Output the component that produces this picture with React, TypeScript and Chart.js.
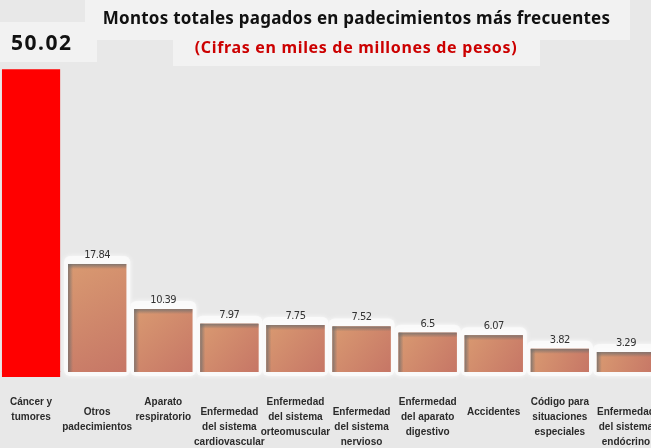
import React, { useEffect, useRef } from "react";
import { Chart, registerables } from "chart.js";

Chart.register(...registerables);

const categories: string[][] = [
  ["Cáncer y", "tumores"],
  ["Otros", "padecimientos"],
  ["Aparato", "respiratorio"],
  ["Enfermedad", "del sistema", "cardiovascular"],
  ["Enfermedad", "del sistema", "orteomuscular"],
  ["Enfermedad", "del sistema", "nervioso"],
  ["Enfermedad", "del aparato", "digestivo"],
  ["Accidentes"],
  ["Código para", "situaciones", "especiales"],
  ["Enfermedad", "del sistema", "endócrino"],
];
const values: number[] = [50.02, 17.84, 10.39, 7.97, 7.75, 7.52, 6.5, 6.07, 3.82, 3.29];
const titleText = "Montos totales pagados en padecimientos más frecuentes";
const subtitleText = "(Cifras en miles de millones de pesos)";

const SHIFT = 2; // canvas is placed 2px left of the page

function fitSpacing(ctx: CanvasRenderingContext2D, text: string, target: number) {
  (ctx as any).letterSpacing = "0px";
  const w = ctx.measureText(text).width;
  const n = Math.max(1, text.length - 1);
  let s = (target - w) / n;
  if (s > 1.5) s = 1.5;
  if (s < -1) s = -1;
  (ctx as any).letterSpacing = s.toFixed(2) + "px";
}

const decor = {
  id: "decor",
  beforeDraw(chart: any) {
    const ctx: CanvasRenderingContext2D = chart.ctx;
    ctx.save();
    ctx.fillStyle = "#e8e8e8";
    ctx.fillRect(0, 0, chart.width, chart.height);
    ctx.fillStyle = "#f2f2f2";
    ctx.fillRect(85 + SHIFT, 0, 545, 40);
    ctx.fillRect(173 + SHIFT, 40, 367, 26);
    ctx.fillRect(0, 22, 97 + SHIFT, 40);
    ctx.restore();
  },
  beforeDatasetsDraw(chart: any) {
    const ctx: CanvasRenderingContext2D = chart.ctx;
    const meta = chart.getDatasetMeta(0);
    ctx.save();
    meta.data.forEach((el: any, i: number) => {
      if (i === 0) return;
      const p = el.getProps(["x", "y", "base", "width"], true);
      const left = p.x - p.width / 2;
      const w = p.width;
      ctx.save();
      ctx.shadowColor = "rgba(255,255,255,0.95)";
      ctx.shadowBlur = 5;
      ctx.fillStyle = "rgba(250,250,250,0.85)";
      ctx.beginPath();
      (ctx as any).roundRect(left - 4, p.y - 8, w + 8, p.base - p.y + 12, 6);
      ctx.fill();
      ctx.restore();
    });
    ctx.restore();
  },
  afterDatasetsDraw(chart: any) {
    const ctx: CanvasRenderingContext2D = chart.ctx;
    const meta = chart.getDatasetMeta(0);
    ctx.save();
    meta.data.forEach((el: any, i: number) => {
      const p = el.getProps(["x", "y", "base", "width"], true);
      const left = p.x - p.width / 2;
      const right = p.x + p.width / 2;
      const w = p.width;
      const h = p.base - p.y;
      if (i === 0) {
        ctx.fillStyle = "#ff0000";
        ctx.fillRect(left, p.base - 1, w, 6);
        return;
      }
      const g = ctx.createLinearGradient(left, p.y, right, p.base);
      g.addColorStop(0, "#d99a71");
      g.addColorStop(1, "#c67666");
      ctx.fillStyle = g;
      ctx.fillRect(left, p.y, w, h);
      const gl = ctx.createLinearGradient(left, 0, left + 5, 0);
      gl.addColorStop(0, "rgba(110,110,110,0.8)");
      gl.addColorStop(1, "rgba(110,110,110,0)");
      ctx.fillStyle = gl;
      ctx.fillRect(left, p.y, 5, h);
      const gt = ctx.createLinearGradient(0, p.y, 0, p.y + 5);
      gt.addColorStop(0, "rgba(110,110,110,0.8)");
      gt.addColorStop(1, "rgba(110,110,110,0)");
      ctx.fillStyle = gt;
      ctx.fillRect(left, p.y, w, 5);
      // value label
      ctx.fillStyle = "#333333";
      ctx.font = "11px 'DejaVu Sans Condensed', 'DejaVu Sans', sans-serif";
      (ctx as any).fontStretch = "condensed";
      (ctx as any).letterSpacing = "-0.5px";
      ctx.textAlign = "center";
      ctx.textBaseline = "alphabetic";
      ctx.fillText(String(values[i]), p.x, p.y - 6);
      (ctx as any).letterSpacing = "0px";
      (ctx as any).fontStretch = "normal";
    });
    // category labels
    const xs = chart.scales.x;
    ctx.fillStyle = "#2b2b2b";
    ctx.font = "bold 10px 'Liberation Sans', Arial, sans-serif";
    ctx.textAlign = "center";
    ctx.textBaseline = "middle";
    categories.forEach((lines, i) => {
      const x = xs.getPixelForValue(i);
      const first = i % 2 === 0 ? 402 : 412.5;
      lines.forEach((ln, j) => ctx.fillText(ln, x, first + j * 15));
    });
    ctx.restore();
  },
  afterDraw(chart: any) {
    const ctx: CanvasRenderingContext2D = chart.ctx;
    ctx.save();
    ctx.textAlign = "center";
    ctx.textBaseline = "alphabetic";
    ctx.fillStyle = "#111111";
    ctx.font = "bold 17px 'Noto Sans', 'Open Sans', sans-serif";
    fitSpacing(ctx, titleText, 507);
    ctx.fillText(titleText, 356.5 + SHIFT, 24);
    ctx.fillStyle = "#cc0000";
    ctx.font = "bold 16px 'Noto Sans', 'Open Sans', sans-serif";
    fitSpacing(ctx, subtitleText, 322);
    ctx.fillText(subtitleText, 356 + SHIFT, 53);
    ctx.fillStyle = "#111111";
    ctx.font = "bold 21px 'Noto Sans', 'Open Sans', sans-serif";
    fitSpacing(ctx, String(values[0]), 61);
    ctx.textAlign = "left";
    ctx.fillText(String(values[0]), 11 + SHIFT, 50);
    ctx.restore();
  },
};

export default function App() {
  const ref = useRef<HTMLCanvasElement | null>(null);
  useEffect(() => {
    if (!ref.current) return;
    const chart = new Chart(ref.current, {
      type: "bar",
      data: {
        labels: categories.map((c) => c.join(" ")),
        datasets: [
          {
            data: values,
            backgroundColor: values.map((_, i) => (i === 0 ? "#ff0000" : "#cd8469")),
            borderWidth: 0,
            barPercentage: 0.88,
            categoryPercentage: 1,
          },
        ],
      },
      options: {
        responsive: false,
        animation: false,
        layout: { padding: { top: 39, bottom: 76, left: 0, right: 0 } },
        plugins: { legend: { display: false }, tooltip: { enabled: false }, title: { display: false } },
        scales: {
          x: { display: false },
          y: { display: false, min: 0, max: 55 },
        },
      },
      plugins: [decor],
    });
    return () => chart.destroy();
  }, []);
  return (
    <div style={{ position: "fixed", left: 0, top: 0, width: 651, height: 448, overflow: "hidden", background: "#e8e8e8" }}>
      <canvas ref={ref} width={661} height={448} style={{ position: "absolute", left: -SHIFT, top: 0, width: 661, height: 448 }} />
    </div>
  );
}
